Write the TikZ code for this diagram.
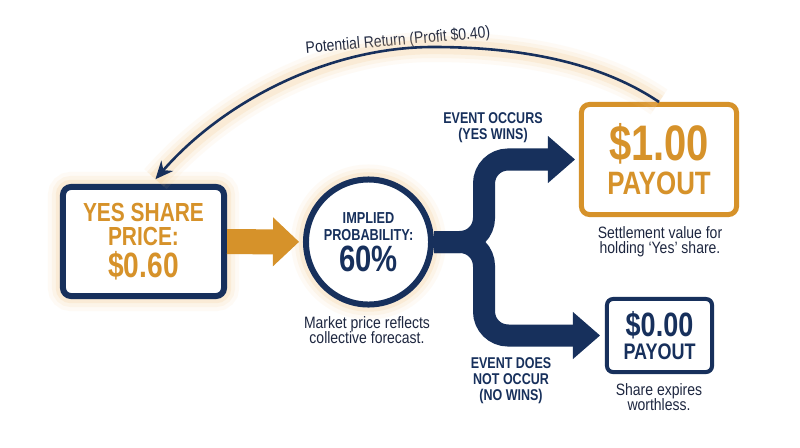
\documentclass[tikz,border=0pt]{standalone}
\usepackage{fontspec}
\setmainfont{Liberation Sans}[FakeStretch=0.85]
\newfontfamily\headfont{Liberation Sans}[FakeStretch=0.8]
\usetikzlibrary{arrows.meta}
\definecolor{navy}{HTML}{17305C}
\definecolor{gold}{HTML}{D6922A}
\definecolor{glowc}{HTML}{F2C27E}
\definecolor{inkc}{HTML}{1E2740}
\newcommand{\fs}[2]{\fontsize{#1}{#2}\selectfont}

\begin{document}
\begin{tikzpicture}
  [x=0.025cm,y=-0.025cm,every node/.style={inner sep=0pt,align=center},
   glow/.style={preaction={draw=glowc,line width=7.5mm,opacity=.07,arrows=-},
                preaction={draw=glowc,line width=5.5mm,opacity=.1,arrows=-},
                preaction={draw=glowc,line width=3.6mm,opacity=.16,arrows=-}},
   pricebox/.style={draw=navy,fill=white,line width=1.5mm,rounded corners=2mm,
                    minimum width=40.25mm,minimum height=27.25mm,
                    text=gold,font=\headfont\bfseries},
   probcircle/.style={circle,draw=navy,fill=white,line width=1.5mm,
                      minimum size=31.25mm,text=navy,font=\headfont\bfseries},
   winbox/.style={draw=gold,fill=white,line width=1.25mm,rounded corners=2mm,
                  minimum width=38.75mm,minimum height=27.5mm,
                  text=gold,font=\headfont\bfseries},
   losebox/.style={draw=navy,fill=white,line width=1mm,rounded corners=1.5mm,
                   minimum width=26.25mm,minimum height=18.25mm,
                   text=navy,font=\headfont\bfseries},
   note/.style={text=inkc,font=\fs{11.7}{11}},
   eventlabel/.style={text=navy,font=\headfont\bfseries\fs{11.1}{11.4}},
   goldarrow/.style={draw=gold,line width=6.25mm,shorten >=1mm,
                     -{Triangle[length=6.5mm,width=12.25mm,line width=0pt]}},
   navyarrow/.style={draw=navy,line width=5.5mm,rounded corners=6mm,
                     -{Triangle[length=6.75mm,width=11.75mm,line width=0pt]}},
   returnarc/.style={draw=navy,line width=0.65mm,shorten >=1.6mm,
                     -{Stealth[length=4.5mm,width=4mm,inset=1.5mm,line width=0pt]}}]

  \fill[white] (0,0) rectangle (800,447);
  \useasboundingbox (0,0) rectangle (800,447);

  \node[pricebox,glow] (yes) at (143.5,241.5)
    {\fs{18.6}{18}YES SHARE\\[3.3pt]\fs{18.6}{18}PRICE:\\[3pt]\fs{25}{25}\$0.60};
  \node[probcircle,glow] (prob) at (368.5,242)
    {\fs{11.3}{12}IMPLIED\\\fs{11.3}{12}PROBABILITY:\\[2.6pt]\fs{26}{26}60\%};
  \node[winbox] (one) at (659,159.5)
    {\fs{35.5}{35.5}\$1.00\\[4.4pt]\fs{23}{23}PAYOUT};
  \node[losebox] (zero) at (659.5,335.5)
    {\fs{24}{24}\$0.00\\[2.6pt]\fs{16}{16}PAYOUT};
  \coordinate (split) at (484,242);

  \node[note] (probnote) at (367,330) {Market price reflects\\collective forecast.};
  \node[note] (onenote) at (660,241.5) {Settlement value for\\holding ‘Yes’ share.};
  \node[note] (zeronote) at (659,397) {Share expires\\worthless.};
  \node[eventlabel] (occurs) at (493,127.5) {EVENT OCCURS\\(YES WINS)};
  \node[eventlabel] (notoccurs) at (511,381) {EVENT DOES\\NOT OCCUR\\(NO WINS)};
  \node[note,rotate=5] (ret) at (398,41) {Potential Return (Profit \$0.40)};

  \draw[goldarrow] (yes) -- (prob);
  \foreach \to/\gap in {one/1mm,zero/1.25mm}
    \draw[navyarrow,shorten >=\gap] (prob) -- (split) |- (\to);
  \draw[returnarc,glow] (one.north) .. controls (600,62) and (520,47) .. (433,47)
    .. controls (330,47) and (225,100) .. ([xshift=5.5]yes.north);
\end{tikzpicture}
\end{document}
